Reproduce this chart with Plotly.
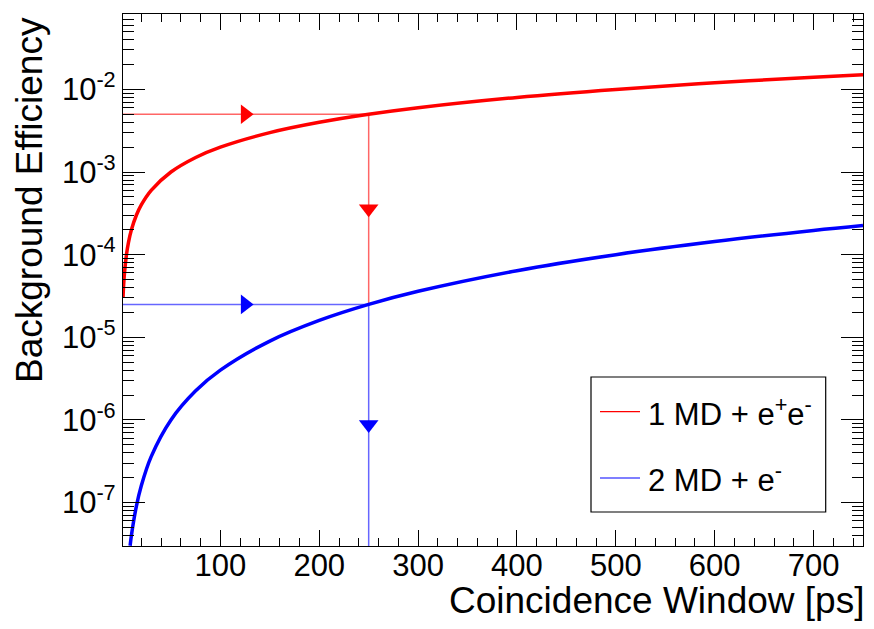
import math
import plotly.graph_objects as go

# ---- data ----
red_x = [1.5, 2, 3, 5, 7, 10, 15, 20, 30, 50, 75, 100, 150, 200, 250, 300, 400, 500, 600, 700, 750]
red_y = [3.0e-5, 4.0e-5, 6.0e-5, 1.0e-4, 1.4e-4, 2.0e-4, 3.0e-4, 4.0e-4, 6.0e-4, 1.0e-3, 1.5e-3,
         2.0e-3, 3.0e-3, 4.0e-3, 5.0e-3, 6.0e-3, 8.0e-3, 1.0e-2, 1.2e-2, 1.4e-2, 1.5e-2]

blue_x = [8.7, 10, 15, 20, 30, 50, 75, 100, 150, 200, 250, 300, 400, 500, 600, 700, 750]
blue_y = [3.0e-8, 4.0e-8, 9.0e-8, 1.6e-7, 3.6e-7, 1.0e-6, 2.25e-6, 4.0e-6, 9.0e-6, 1.6e-5,
          2.5e-5, 3.6e-5, 6.4e-5, 1.0e-4, 1.44e-4, 1.96e-4, 2.25e-4]

labels = ["1 MD + e<sup>+</sup>e<sup>-</sup>", "2 MD + e<sup>-</sup>"]

# working point guide lines
x_min, x_max = 1.5, 750
y_min, y_max = 2.98e-8, 0.0817
cut_x = 250
red_level = 5.0e-3
blue_level = 2.5e-5
arrow_h_x = 125
red_arrow_down_y = 3.6e-4
blue_arrow_down_y = 8.8e-7

y_tick_vals = [1e-7, 1e-6, 1e-5, 1e-4, 1e-3, 1e-2]
y_tick_text = ["10<sup>-7</sup>", "10<sup>-6</sup>", "10<sup>-5</sup>", "10<sup>-4</sup>",
               "10<sup>-3</sup>", "10<sup>-2</sup>"]
y_minor_vals = [k * 10 ** e for e in range(-8, 0) for k in range(2, 10)]

RED = "#ff0000"
BLUE = "#0000ff"
RED_T = "rgba(255,0,0,0.6)"
BLUE_T = "rgba(0,0,255,0.6)"

# page body has an 8px default margin; compensate so the plot lands where the reference has it
OFF = 8
W, H = 874 - OFF, 629 - OFF
L, R, T, B = 123 - OFF, 11, 14 - OFF, 83
PW = W - L - R
PH = H - T - B


def px_x(p):
    return (p - 123) / PW


def px_y(p):
    return (14 + PH - p) / PH


fig = go.Figure()

# guide lines
fig.add_trace(go.Scatter(x=[x_min, cut_x, cut_x], y=[red_level, red_level, blue_level],
                         mode="lines", line=dict(color=RED_T, width=1.5), showlegend=False,
                         hoverinfo="skip"))
fig.add_trace(go.Scatter(x=[x_min, cut_x, cut_x], y=[blue_level, blue_level, y_min],
                         mode="lines", line=dict(color=BLUE_T, width=1.5), showlegend=False,
                         hoverinfo="skip"))

# curves
fig.add_trace(go.Scatter(x=red_x, y=red_y, mode="lines", line=dict(color=RED, width=3.5, shape="spline"),
                         name=labels[0], showlegend=False))
fig.add_trace(go.Scatter(x=blue_x, y=blue_y, mode="lines", line=dict(color=BLUE, width=3.5, shape="spline"),
                         name=labels[1], showlegend=False))

# arrow heads
fig.add_trace(go.Scatter(x=[arrow_h_x, arrow_h_x], y=[red_level, blue_level], mode="markers",
                         marker=dict(symbol="triangle-right", size=17, color=[RED, BLUE]),
                         showlegend=False, hoverinfo="skip"))
fig.add_trace(go.Scatter(x=[cut_x, cut_x], y=[red_arrow_down_y, blue_arrow_down_y], mode="markers",
                         marker=dict(symbol="triangle-down", size=17, color=[RED, BLUE]),
                         showlegend=False, hoverinfo="skip"))

FONT = "Liberation Sans, Arial, Helvetica, sans-serif"

fig.update_layout(
    width=W, height=H,
    margin=dict(l=L, r=R, t=T, b=B, autoexpand=False),
    paper_bgcolor="white", plot_bgcolor="white",
    font=dict(family=FONT, color="black", size=31),
    showlegend=False,
)

fig.update_xaxes(
    range=[x_min, x_max], tick0=0, dtick=100,
    ticks="inside", ticklen=16, tickwidth=1.2, tickcolor="black",
    showline=True, linecolor="black", linewidth=1.2, mirror="allticks",
    showgrid=False, zeroline=False, ticklabelstandoff=-8,
    tickfont=dict(size=31, family=FONT, color="black"),
    minor=dict(ticks="inside", ticklen=8, tickwidth=1.2, tickcolor="black", tick0=0, dtick=20, showgrid=False),
)
fig.update_yaxes(
    type="log", range=[math.log10(y_min), math.log10(y_max)],
    tickmode="array", tickvals=y_tick_vals, ticktext=y_tick_text,
    ticks="inside", ticklen=22, tickwidth=1.2, tickcolor="black",
    showline=True, linecolor="black", linewidth=1.2, mirror="allticks",
    showgrid=False, zeroline=False,
    tickfont=dict(size=31, family=FONT, color="black"),
    minor=dict(ticks="inside", ticklen=11, tickwidth=1.2, tickcolor="black",
               tickmode="array", tickvals=y_minor_vals, showgrid=False),
)

# axis titles (ROOT style, aligned to axis end)
fig.add_annotation(text="Background Efficiency", xref="paper", yref="paper",
                   x=px_x(30), y=px_y(15), xanchor="center", yanchor="top",
                   textangle=-90, showarrow=False, font=dict(size=37, family=FONT, color="black"))
fig.add_annotation(text="Coincidence Window [ps]", xref="paper", yref="paper",
                   x=px_x(866), y=px_y(600), xanchor="right", yanchor="middle",
                   showarrow=False, font=dict(size=37, family=FONT, color="black"))

# legend box
fig.add_shape(type="rect", xref="paper", yref="paper",
              x0=px_x(591), x1=px_x(825.7), y0=px_y(512), y1=px_y(377),
              line=dict(color="black", width=1.2), fillcolor="white", layer="above")
for lab, col, py in [(labels[0], RED, 411.7), (labels[1], BLUE, 478)]:
    fig.add_shape(type="line", xref="paper", yref="paper",
                  x0=px_x(600), x1=px_x(640), y0=px_y(py), y1=px_y(py),
                  line=dict(color=col, width=1.2), layer="above")
    fig.add_annotation(text=lab, xref="paper", yref="paper", x=px_x(646), y=px_y(py),
                       xanchor="left", yanchor="middle", showarrow=False,
                       font=dict(size=31, family=FONT, color="black"))

fig.write_html("out.html")
